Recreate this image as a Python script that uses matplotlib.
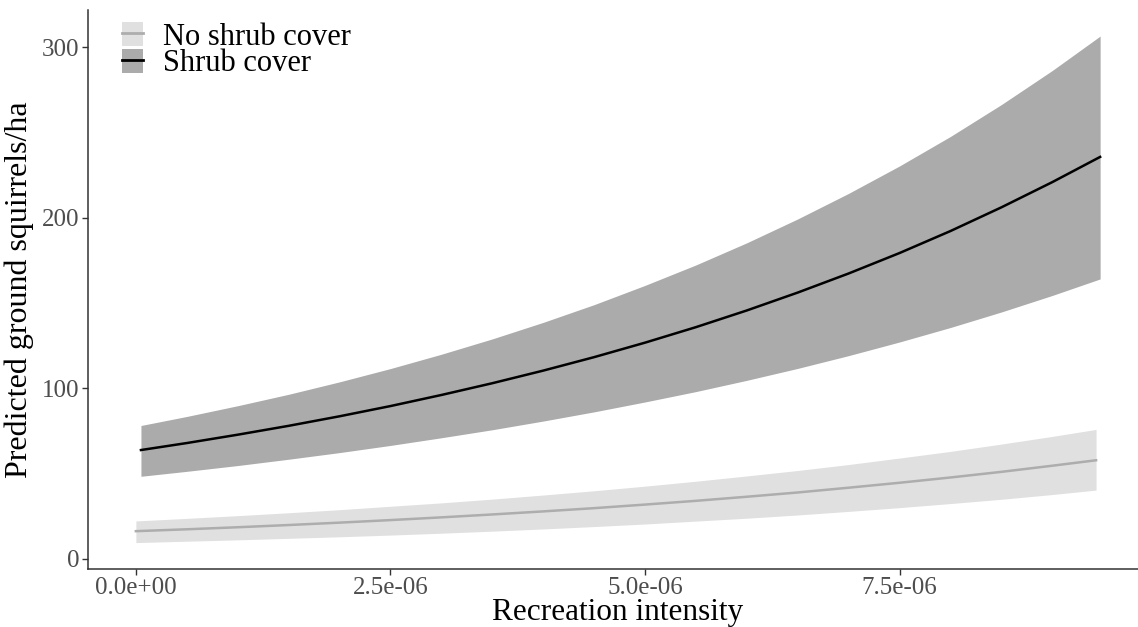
import matplotlib
matplotlib.use("Agg")
import numpy as np
from matplotlib import pyplot as plt
from matplotlib.patches import Patch
from matplotlib.lines import Line2D

# recreation intensity (x)
x_shrub = [0.05e-6, 0.5e-6, 1.0e-6, 1.5e-6, 2.0e-6, 2.5e-6, 3.0e-6, 3.5e-6, 4.0e-6, 4.5e-6,
           5.0e-6, 5.5e-6, 6.0e-6, 6.5e-6, 7.0e-6, 7.5e-6, 8.0e-6, 8.5e-6, 9.0e-6, 9.47e-6]
shrub_fit = [63.8, 67.9, 72.8, 78.0, 83.6, 89.6, 96.1, 103.0, 110.4, 118.3,
             126.8, 135.9, 145.7, 156.2, 167.4, 179.4, 192.3, 206.2, 221.0, 235.8]
shrub_hi = [78.2, 83.5, 89.8, 96.5, 103.8, 111.6, 120.0, 129.0, 138.7, 149.1,
            160.4, 172.4, 185.4, 199.4, 214.4, 230.5, 247.8, 266.5, 286.5, 306.7]
shrub_lo = [48.4, 51.3, 54.7, 58.4, 62.3, 66.5, 71.0, 75.7, 80.8, 86.2,
            92.0, 98.1, 104.7, 111.7, 119.2, 127.2, 135.7, 144.8, 154.5, 164.2]

x_none = [0.0, 0.5e-6, 1.0e-6, 1.5e-6, 2.0e-6, 2.5e-6, 3.0e-6, 3.5e-6, 4.0e-6, 4.5e-6,
          5.0e-6, 5.5e-6, 6.0e-6, 6.5e-6, 7.0e-6, 7.5e-6, 8.0e-6, 8.5e-6, 9.0e-6, 9.43e-6]
none_fit = [16.2, 17.3, 18.5, 19.8, 21.2, 22.7, 24.3, 26.0, 27.8, 29.7,
            31.8, 34.0, 36.4, 38.9, 41.7, 44.6, 47.7, 51.0, 54.6, 57.8]
none_hi = [22.2, 23.7, 25.3, 27.0, 28.8, 30.8, 32.8, 35.0, 37.4, 39.9,
           42.6, 45.5, 48.6, 51.8, 55.3, 59.1, 63.0, 67.3, 71.8, 75.9]
none_lo = [9.5, 10.3, 11.1, 12.0, 12.9, 13.9, 15.0, 16.2, 17.5, 18.9,
           20.4, 22.1, 23.8, 25.7, 27.8, 30.0, 32.4, 34.9, 37.7, 40.3]

x_ticks = [0.0, 2.5e-6, 5.0e-6, 7.5e-6]
x_ticklabels = ["0.0e+00", "2.5e-06", "5.0e-06", "7.5e-06"]
y_ticks = [0, 100, 200, 300]

plt.rcParams['font.family'] = ['Liberation Serif', 'DejaVu Serif']

fig = plt.figure(figsize=(11.38, 6.27), dpi=100)
ax = fig.add_axes([88 / 1138, 58 / 627, 1060 / 1138, 559 / 627])

light = "#E0E0E0"
dark = "#ABABAB"

ax.fill_between(x_none, none_lo, none_hi, color=light, lw=0)
ax.plot(x_none, none_fit, color="#ADADAD", lw=1.8)
ax.fill_between(x_shrub, shrub_lo, shrub_hi, color=dark, lw=0)
ax.plot(x_shrub, shrub_fit, color="black", lw=1.8)

ax.set_xlim(-0.47e-6, 9.94e-6)
ax.set_ylim(-6, 322)
ax.set_xticks(x_ticks)
ax.set_xticklabels(x_ticklabels)
ax.set_yticks(y_ticks)

for s in ["top", "right"]:
    ax.spines[s].set_visible(False)
for s in ["left", "bottom"]:
    ax.spines[s].set_color("#333333")
    ax.spines[s].set_linewidth(1.1)
ax.tick_params(axis="both", length=4, width=1, color="#333333",
               labelsize=18, labelcolor="#4D4D4D", pad=2)

ax.set_xlabel("Recreation intensity", fontsize=22.5, labelpad=-1)
ax.set_ylabel("Predicted ground squirrels/ha", fontsize=23, labelpad=6)

h_none = (Patch(facecolor=light, edgecolor="none"), Line2D([], [], color="#ADADAD", lw=2))
h_shrub = (Patch(facecolor=dark, edgecolor="none"), Line2D([], [], color="black", lw=2))
ax.legend([h_none, h_shrub], ["No shrub cover", "Shrub cover"],
          loc="upper left", bbox_to_anchor=(122 / 1138, 1 - 22 / 627),
          bbox_transform=fig.transFigure, frameon=False, fontsize=22,
          handlelength=0.69, handleheight=0.85, handletextpad=0.65,
          labelspacing=-0.1, borderaxespad=0, borderpad=0)

fig.savefig("out.png", dpi=100)
